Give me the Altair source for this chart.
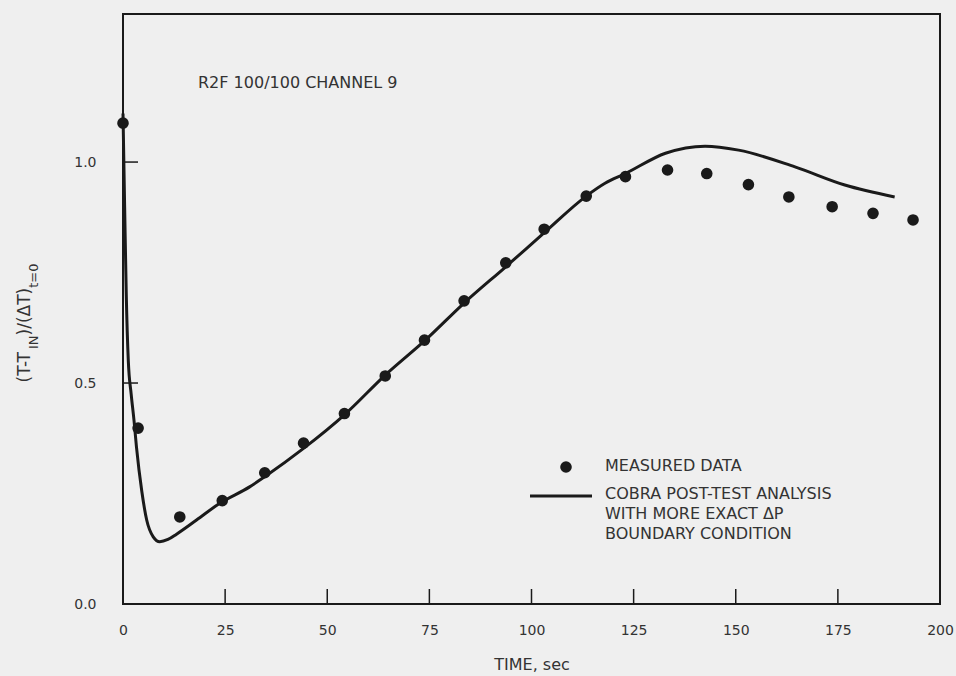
import altair as alt
import pandas as pd

# ---- data ----
MEAS_T = [0, 3.7, 13.9, 24.3, 34.7, 44.2, 54.2, 64.2, 73.8, 83.5, 93.7, 103.1,
          113.4, 123.0, 133.3, 142.9, 153.1, 163.0, 173.6, 183.6, 193.4]
MEAS_V = [1.088, 0.398, 0.197, 0.234, 0.297, 0.364, 0.431, 0.516, 0.597, 0.686,
          0.772, 0.848, 0.923, 0.967, 0.982, 0.974, 0.949, 0.921, 0.899, 0.884, 0.869]

COBRA_T = [0, 0.4, 0.8, 1.3, 2.0, 2.7, 3.3, 4.6, 5.8, 7.4, 9.0, 11.0, 13.1, 18.0,
           23.7, 31.0, 34.7, 44.2, 54.2, 64.2, 74.0, 83.5, 93.7, 103.0, 113.4,
           118.0, 123.0, 132.8, 142.5, 150.7, 164.5, 176.7, 188.9]
COBRA_V = [1.11, 0.90, 0.70, 0.55, 0.475, 0.415, 0.355, 0.255, 0.19, 0.152, 0.141,
           0.146, 0.158, 0.19, 0.228, 0.265, 0.288, 0.352, 0.428, 0.518, 0.597,
           0.681, 0.763, 0.839, 0.923, 0.952, 0.974, 1.02, 1.036, 1.027, 0.989,
           0.948, 0.921]

X_LABELS = [0, 25, 50, 75, 100, 125, 150, 175, 200]
X_TICKS = [25, 50, 75, 100, 125, 150, 175]
Y_LABELS = [0.0, 0.5, 1.0]
Y_TICKS = [0.5, 1.0]

ANNOT = "R2F 100/100 CHANNEL 9"
LEG_POINT = "MEASURED DATA"
LEG_LINE = ["COBRA POST-TEST ANALYSIS", "WITH MORE EXACT \u0394P", "BOUNDARY CONDITION"]

W, H = 817, 590
INK = "#1a1a1a"
TXT = "#333333"
FONT = "DejaVu Sans"

meas = pd.DataFrame({"t": MEAS_T, "v": MEAS_V})
cobra = pd.DataFrame({"t": COBRA_T, "v": COBRA_V})
xt = pd.DataFrame({"t": X_TICKS})
yt = pd.DataFrame({"v": Y_TICKS})

xscale = alt.Scale(domain=[0, 200], nice=False)
yscale = alt.Scale(domain=[0, 1.335], nice=False)

xenc = alt.X("t:Q", scale=xscale,
             axis=alt.Axis(values=X_LABELS, ticks=False, domain=False, grid=False,
                           labelFlush=False, labelPadding=19, labelFontSize=14,
                           labelColor=TXT, labelFont=FONT, title="TIME, sec",
                           titleFont=FONT, titleFontSize=16, titleFontWeight="normal",
                           titleColor=TXT, titlePadding=19))
yenc = alt.Y("v:Q", scale=yscale,
             axis=alt.Axis(values=Y_LABELS, format=".1f", ticks=False, domain=False,
                           grid=False, labelFlush=False, labelPadding=27,
                           labelFontSize=14, labelColor=TXT, labelFont=FONT, title=None))

line = alt.Chart(cobra).mark_line(color=INK, strokeWidth=3, interpolate="monotone").encode(
    x=xenc, y=yenc)
pts = alt.Chart(meas).mark_circle(size=135, color=INK, opacity=1).encode(
    x=alt.X("t:Q", scale=xscale), y=alt.Y("v:Q", scale=yscale))

xtick = alt.Chart(xt).mark_rule(color=INK, strokeWidth=1.5).encode(
    x=alt.X("t:Q", scale=xscale), y=alt.value(H), y2=alt.value(H - 15))
ytick = alt.Chart(yt).mark_rule(color=INK, strokeWidth=1.5).encode(
    y=alt.Y("v:Q", scale=yscale), x=alt.value(0), x2=alt.value(15))

one = alt.Data(values=[{}])


def label(txt, x, y, size=16, angle=0, align="left"):
    return alt.Chart(one).mark_text(text=txt, font=FONT, fontSize=size, color=TXT,
                                    align=align, baseline="middle", angle=angle).encode(
        x=alt.value(x), y=alt.value(y))


layers = [line, pts, xtick, ytick, label(ANNOT, 75, 69)]

# legend
layers.append(alt.Chart(one).mark_point(filled=True, size=135, color=INK, opacity=1,
                                        shape="circle").encode(
    x=alt.value(443), y=alt.value(453)))
layers.append(alt.Chart(one).mark_rule(color=INK, strokeWidth=3).encode(
    x=alt.value(407), x2=alt.value(469), y=alt.value(482)))
layers.append(label(LEG_POINT, 482, 452))
for i, s in enumerate(LEG_LINE):
    layers.append(label(s, 482, 480 + 20 * i))

# y-axis title with subscripts (rotated), flowing bottom -> top
main_sz, sub_sz = 17, 13
pieces = [("(T-T", main_sz, -98, 33.5),
          ("IN", sub_sz, -89, 13.6),
          (")/(\u0394T)", main_sz, -98, 47.6),
          ("t=0", sub_sz, -89, 24.3)]
total = sum(p[3] for p in pieces)
ystart = 323 - 14 + total / 2
for txt, sz, x, w in pieces:
    layers.append(label(txt, x, ystart, size=sz, angle=270))
    ystart -= w

chart = alt.layer(*layers).properties(
    width=W, height=H,
    autosize=alt.AutoSizeParams(type="none"),
    padding={"left": 123, "top": 14, "right": 16, "bottom": 72},
    background="#efefef",
).configure_view(stroke=INK, strokeWidth=2)

chart.save("out.html", embed_options={"renderer": "svg", "actions": False})
